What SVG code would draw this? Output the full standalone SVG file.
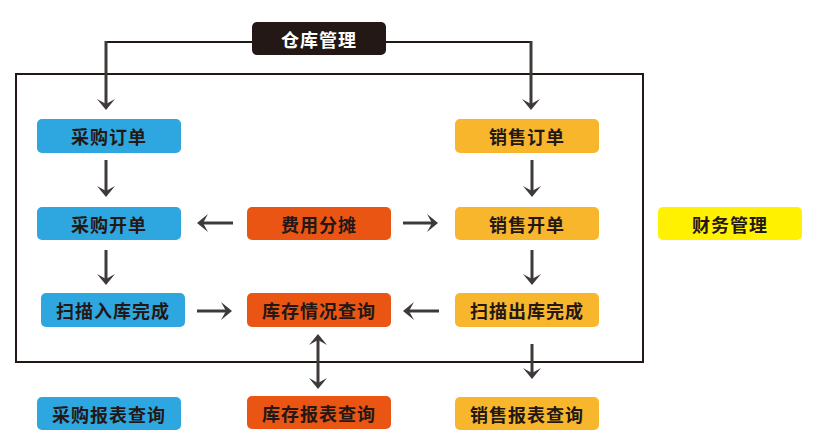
<svg xmlns="http://www.w3.org/2000/svg" width="813" height="443" viewBox="0 0 813 443">
<style>
.t{font-family:"Noto Sans CJK SC","Noto Sans",sans-serif;font-size:18px;font-weight:700;fill:#231815;text-anchor:middle;dominant-baseline:central;letter-spacing:1px}
.w{fill:#ffffff}
.blue{fill:#2ea7e0}
.org{fill:#ea5514}
.yo{fill:#f8b62d}
.yel{fill:#fff100}
.dark{fill:#231815}
.c{stroke:#3e3a39;stroke-width:3;fill:none;marker-end:url(#ah)}
.cd{stroke:#3e3a39;stroke-width:3;fill:none;marker-end:url(#ah);marker-start:url(#ah)}
</style>
<defs>
<marker id="ah" markerUnits="userSpaceOnUse" viewBox="-12 -10 14 20" refX="-6" refY="0" markerWidth="14" markerHeight="20" orient="auto-start-reverse">
<path d="M0,0 L-11,-9 L-6,0 L-11,9 Z" fill="#3e3a39"/>
</marker>
</defs>
<rect x="16" y="74" width="627" height="288" fill="none" stroke="#231815" stroke-width="2"/>
<g id="connectors">
<path d="M252,42 H106 M386,42 H531" stroke="#231815" stroke-width="2" fill="none"/>
<path class="c" d="M106,41 V104"/>
<path class="c" d="M531,41 V104"/>
<path class="c" d="M106,160 V191"/>
<path class="c" d="M106,250 V279"/>
<path class="c" d="M532,160 V191"/>
<path class="c" d="M532,250 V279"/>
<path class="c" d="M532,344 V373"/>
<path class="c" d="M233,223 H203"/>
<path class="c" d="M403,223 H432"/>
<path class="c" d="M197,311 H226"/>
<path class="c" d="M439,311 H409"/>
<path class="cd" d="M318,340 V383"/>
</g>
<g id="n-warehouse"><rect class="dark" x="252" y="22" width="134" height="33" rx="5"/><text class="t w" x="319" y="39">仓库管理</text></g>
<g id="n-po"><rect class="blue" x="37" y="119" width="144" height="34" rx="5"/><text class="t" x="109" y="136">采购订单</text></g>
<g id="n-pbill"><rect class="blue" x="37" y="207" width="144" height="33" rx="5"/><text class="t" x="109" y="224">采购开单</text></g>
<g id="n-scanin"><rect class="blue" x="41" y="293" width="144" height="34" rx="5"/><text class="t" x="113" y="310">扫描入库完成</text></g>
<g id="n-preport"><rect class="blue" x="37" y="397" width="144" height="33" rx="5"/><text class="t" x="109" y="414">采购报表查询</text></g>
<g id="n-cost"><rect class="org" x="247" y="207" width="144" height="33" rx="5"/><text class="t" x="319" y="224">费用分摊</text></g>
<g id="n-stock"><rect class="org" x="247" y="293" width="144" height="34" rx="5"/><text class="t" x="319" y="310">库存情况查询</text></g>
<g id="n-sreport"><rect class="org" x="247" y="396" width="144" height="33" rx="5"/><text class="t" x="319" y="413">库存报表查询</text></g>
<g id="n-so"><rect class="yo" x="455" y="119" width="144" height="34" rx="5"/><text class="t" x="527" y="136">销售订单</text></g>
<g id="n-sbill"><rect class="yo" x="455" y="207" width="144" height="33" rx="5"/><text class="t" x="527" y="224">销售开单</text></g>
<g id="n-scanout"><rect class="yo" x="455" y="293" width="144" height="34" rx="5"/><text class="t" x="527" y="310">扫描出库完成</text></g>
<g id="n-salesreport"><rect class="yo" x="455" y="397" width="144" height="33" rx="5"/><text class="t" x="527" y="414">销售报表查询</text></g>
<g id="n-finance"><rect class="yel" x="658" y="207" width="144" height="33" rx="5"/><text class="t" x="730" y="224">财务管理</text></g>
</svg>
